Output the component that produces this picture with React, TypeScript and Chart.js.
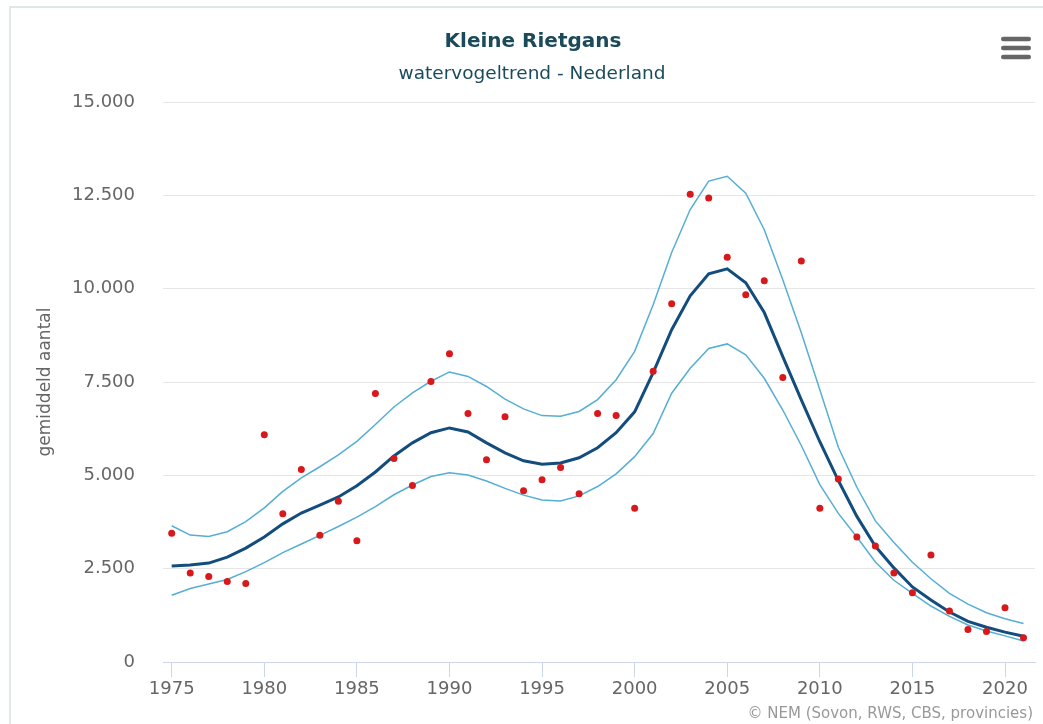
import React, { useEffect, useRef } from 'react';
import { Chart, registerables } from 'chart.js';

Chart.register(...registerables);

const years = [
  1975, 1976, 1977, 1978, 1979, 1980, 1981, 1982, 1983, 1984,
  1985, 1986, 1987, 1988, 1989, 1990, 1991, 1992, 1993, 1994,
  1995, 1996, 1997, 1998, 1999, 2000, 2001, 2002, 2003, 2004,
  2005, 2006, 2007, 2008, 2009, 2010, 2011, 2012, 2013, 2014,
  2015, 2016, 2017, 2018, 2019, 2020, 2021,
];

// yearly index values (red dots)
const counts = [
  3447, 2387, 2288, 2154, 2101, 6088, 3974, 5159, 3393, 4303,
  3251, 7193, 5454, 4731, 7514, 8255, 6658, 5419, 6570, 4589,
  4884, 5213, 4509, 6658, 6604, 4121, 7787, 9593, 12529, 12430,
  10843, 9834, 10214, 7621, 10744, 4116, 4902, 3350, 3110, 2387,
  1852, 2869, 1365, 870, 816, 1450, 648,
];

// smoothed trend
const trend = [
  2570, 2600, 2650, 2810, 3050, 3350, 3700, 3990, 4200, 4420,
  4720, 5090, 5520, 5870, 6140, 6270, 6160, 5870, 5600, 5390,
  5300, 5330, 5470, 5740, 6140, 6700, 7750, 8900, 9810, 10400,
  10530, 10160, 9360, 8180, 7020, 5900, 4860, 3900, 3100, 2520,
  2010, 1660, 1340, 1090, 930, 800, 690,
];

// upper confidence limit
const upper = [
  3650, 3400, 3360, 3490, 3760, 4130, 4570, 4930, 5230, 5550,
  5910, 6360, 6830, 7210, 7520, 7770, 7650, 7380, 7040, 6780,
  6600, 6580, 6710, 7030, 7560, 8320, 9570, 10970, 12120, 12880,
  13010, 12560, 11580, 10240, 8820, 7290, 5750, 4680, 3780, 3200,
  2670, 2230, 1840, 1550, 1320, 1160, 1030,
];

// lower confidence limit
const lower = [
  1790, 1970, 2090, 2210, 2420, 2660, 2930, 3160, 3390, 3630,
  3880, 4160, 4480, 4740, 4970, 5070, 5010, 4850, 4650, 4470,
  4340, 4310, 4450, 4700, 5040, 5500, 6120, 7200, 7870, 8400,
  8520, 8230, 7600, 6750, 5800, 4750, 3980, 3350, 2680, 2190,
  1840, 1500, 1220, 990, 830, 700, 560,
];

const xTicks = [1975, 1980, 1985, 1990, 1995, 2000, 2005, 2010, 2015, 2020];
const yTicks = [0, 2500, 5000, 7500, 10000, 12500, 15000];

const titleText = 'Kleine Rietgans';
const subtitleText = 'watervogeltrend - Nederland';
const yAxisTitle = 'gemiddeld aantal';
const creditText = '© NEM (Sovon, RWS, CBS, provincies)';

const fmt = (v: number) => String(v).replace(/\B(?=(\d{3})+(?!\d))/g, '.');

const pts = (vals: number[]) => years.map((y, i) => ({ x: y, y: vals[i] }));

const W = 1043;
const H = 724;

const decor = {
  id: 'decor',
  beforeDraw(chart: any) {
    const ctx = chart.ctx;
    ctx.save();
    ctx.strokeStyle = '#e1e6e9';
    ctx.lineWidth = 2;
    ctx.beginPath();
    ctx.moveTo(10, H);
    ctx.lineTo(10, 7);
    ctx.lineTo(W, 7);
    ctx.stroke();
    ctx.restore();
  },
  afterDraw(chart: any) {
    const ctx = chart.ctx;
    ctx.save();
    ctx.textAlign = 'center';
    ctx.textBaseline = 'alphabetic';
    ctx.fillStyle = '#1b4a5a';
    ctx.font = 'bold 20px "DejaVu Sans"';
    ctx.fillText(titleText, 533, 47);
    ctx.font = '18.5px "DejaVu Sans"';
    ctx.fillText(subtitleText, 532, 79);

    // menu icon
    ctx.fillStyle = '#666666';
    [39, 48, 57].forEach((cy) => {
      ctx.beginPath();
      (ctx as any).roundRect(1001, cy - 2.25, 30, 4.5, 2.25);
      ctx.fill();
    });

    // credits
    ctx.textAlign = 'right';
    ctx.fillStyle = '#999999';
    ctx.font = '15px "DejaVu Sans"';
    ctx.fillText(creditText, 1033, 718);
    ctx.restore();
  },
};

export default function App() {
  const ref = useRef<HTMLCanvasElement | null>(null);

  useEffect(() => {
    if (!ref.current) return;
    const chart = new Chart(ref.current, {
      type: 'line',
      data: {
        datasets: [
          {
            label: 'telling',
            data: pts(counts),
            showLine: false,
            pointRadius: 3.5,
            pointHoverRadius: 3.5,
            pointBackgroundColor: '#d7191c',
            pointBorderWidth: 0,
            borderColor: '#d7191c',
            order: 0,
          },
          {
            label: 'trend',
            data: pts(trend),
            borderColor: '#134d7d',
            borderWidth: 3,
            pointRadius: 0,
            tension: 0,
            fill: false,
            order: 1,
          },
          {
            label: 'bovengrens',
            data: pts(upper),
            borderColor: '#55aed3',
            borderWidth: 1.5,
            pointRadius: 0,
            tension: 0,
            fill: false,
            order: 2,
          },
          {
            label: 'ondergrens',
            data: pts(lower),
            borderColor: '#55aed3',
            borderWidth: 1.5,
            pointRadius: 0,
            tension: 0,
            fill: false,
            order: 3,
          },
        ],
      },
      options: {
        responsive: false,
        animation: false,
        events: [],
        layout: { padding: { left: 0, right: 8, top: 102, bottom: 0 } },
        plugins: {
          legend: { display: false },
          tooltip: { enabled: false },
          title: { display: false },
        },
        scales: {
          x: {
            type: 'linear',
            min: 1974.53,
            max: 2021.62,
            afterBuildTicks: (s: any) => {
              s.ticks = xTicks.map((v) => ({ value: v }));
            },
            afterFit: (s: any) => {
              s.height = 62;
            },
            grid: {
              drawOnChartArea: false,
              drawTicks: true,
              tickLength: 15,
              color: '#ccd6eb',
              lineWidth: 1,
            },
            border: { display: true, color: '#ccd6eb', width: 1 },
            ticks: {
              autoSkip: false,
              maxRotation: 0,
              padding: 2,
              color: '#666666',
              font: { family: '"DejaVu Sans"', size: 18 },
              callback: (v: any) => String(v),
            },
          },
          y: {
            type: 'linear',
            min: 0,
            max: 15000,
            afterBuildTicks: (s: any) => {
              s.ticks = yTicks.map((v) => ({ value: v }));
            },
            afterFit: (s: any) => {
              s.width = 163;
            },
            grid: {
              drawTicks: false,
              color: (c: any) => (c.tick && c.tick.value === 0 ? '#ccd6eb' : '#e6e6e6'),
              lineWidth: 1,
            },
            border: { display: false },
            ticks: {
              padding: 28,
              color: '#666666',
              font: { family: '"DejaVu Sans"', size: 18 },
              callback: (v: any) => fmt(Number(v)),
            },
            title: {
              display: true,
              text: yAxisTitle,
              color: '#666666',
              font: { family: '"DejaVu Sans"', size: 17 },
              padding: { top: 35, bottom: 0 },
            },
          },
        },
      },
      plugins: [decor],
    } as any);
    return () => chart.destroy();
  }, []);

  return (
    <div style={{ position: 'fixed', left: 0, top: 0, width: W, height: H, background: '#fff' }}>
      <canvas ref={ref} width={W} height={H} style={{ display: 'block', width: W, height: H }} />
    </div>
  );
}
